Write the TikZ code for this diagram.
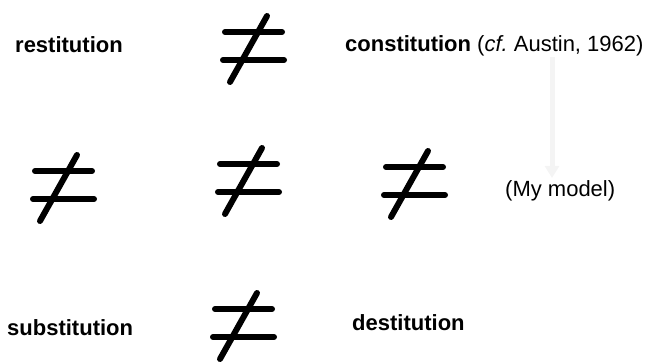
\documentclass[tikz,border=0pt]{standalone}
\usepackage{fontspec}
\setmainfont{Liberation Sans}
\usetikzlibrary{arrows.meta}
\definecolor{faintgrey}{HTML}{F4F4F4}
\tikzset{
    word/.style={anchor=base west, inner sep=0pt, font=\fontsize{22}{26}\selectfont\bfseries},
    note/.style={anchor=base west, inner sep=0pt, font=\fontsize{22}{26}\selectfont},
    neqline/.style={line width=6pt, line cap=round},
    neqsign/.pic={
        \draw[neqline] (-28,-14) -- (29,-14);
        \draw[neqline] (-30,14) -- (31,14);
        \draw[neqline] (14,-30) -- (-23,36);
    }
}
\begin{document}
\begin{tikzpicture}[x=1pt, y=-1pt]
    \useasboundingbox (0,0) rectangle (647,363);
    % faint arrow
    \coordinate (arrtop) at (552,57);
    \coordinate (arrtip) at (552,178);
    \draw[faintgrey, line width=5pt, -{Triangle[width=14pt, length=12pt]}] (arrtop) -- (arrtip);
    % words
    \node[word] (restitution) at (15,53) {restitution};
    \node[word] (constitution) at (345,52) {constitution\mdseries\ (\textit{cf.}\ Austin, 1962)};
    \node[note] (model) at (505,197) {(My model)};
    \node[word] (substitution) at (7,335) {substitution};
    \node[word] (destitution) at (352,330) {destitution};
    % not-equal signs
    \pic at (253,46) {neqsign};
    \pic at (63,185) {neqsign};
    \pic at (248,178) {neqsign};
    \pic at (414,181) {neqsign};
    \pic at (243,323) {neqsign};
\end{tikzpicture}
\end{document}
